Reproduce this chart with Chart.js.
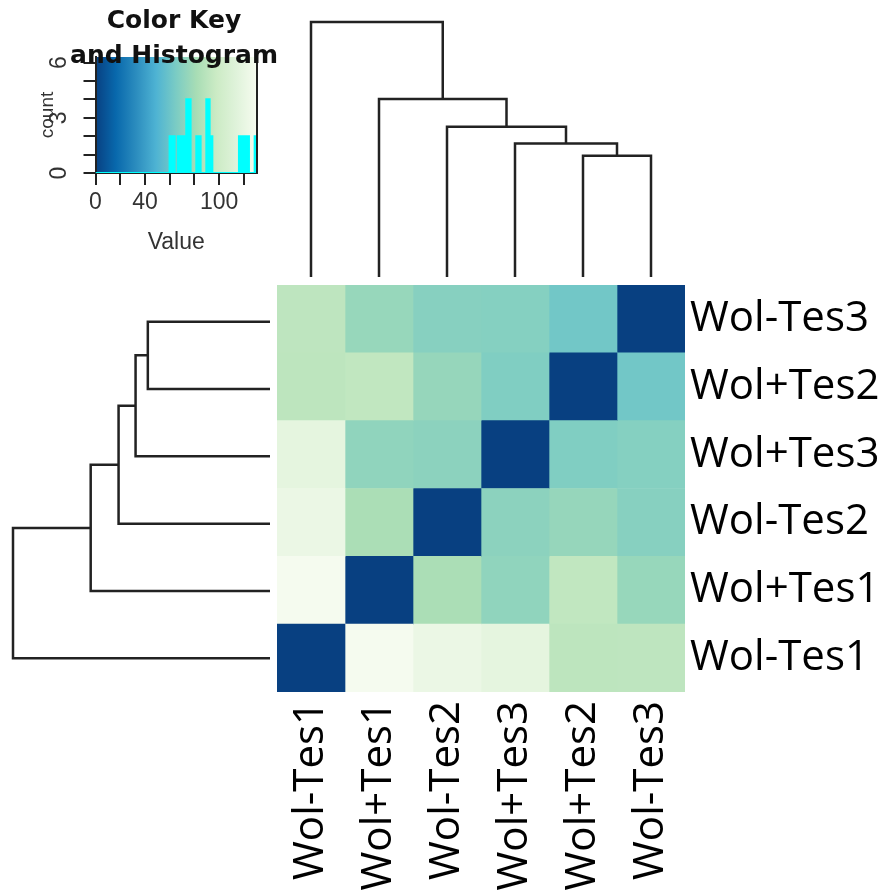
<!DOCTYPE html>
<html>
<head>
<meta charset="utf-8">
<script src="https://cdn.jsdelivr.net/npm/chart.js@4.4.0/dist/chart.umd.min.js"></script>
<style>
    html, body { margin: 0; padding: 0; background: #fff; }
    #wrap { position: relative; width: 885px; height: 896px; overflow: hidden; }
    #wrap canvas { position: absolute; left: 0; top: 0; }
</style>
</head>
<body>
<div id="wrap">
    <canvas id="heat" width="885" height="896"></canvas>
    <canvas id="dendroTop" width="885" height="896"></canvas>
    <canvas id="dendroLeft" width="885" height="896"></canvas>
    <canvas id="key" width="885" height="896"></canvas>
</div>
<script>
// Column order (left to right) and row order (top to bottom)
const colLabels = ['Wol-Tes1', 'Wol+Tes1', 'Wol-Tes2', 'Wol+Tes3', 'Wol+Tes2', 'Wol-Tes3'];
const rowLabels = ['Wol-Tes3', 'Wol+Tes2', 'Wol+Tes3', 'Wol-Tes2', 'Wol+Tes1', 'Wol-Tes1'];

// Cell values per row, columns in colLabels order
const rowWolMTes3 = [91.5, 75.5, 69.5, 69, 62, 0];
const rowWolPTes2 = [91, 93, 75, 67, 0, 62];
const rowWolPTes3 = [117.5, 73, 71.5, 0, 67, 69];
const rowWolMTes2 = [122, 83, 0, 71.5, 75, 69.5];
const rowWolPTes1 = [129.5, 0, 83, 73, 93, 75.5];
const rowWolMTes1 = [0, 129.5, 122, 117.5, 91, 91.5];
const cellRows = [rowWolMTes3, rowWolPTes2, rowWolPTes3, rowWolMTes2, rowWolPTes1, rowWolMTes1];

// Dendrogram (hclust style: negative = leaf column number, positive = earlier merge)
const mergeA = [-5, -4, -3, -2, -1];
const mergeB = [-6, 1, 2, 3, 4];
const mergeHeights = [61.8, 68, 76.6, 90.7, 130];

// Color key
const keyColors = ['#084081', '#0868ac', '#2b8cbe', '#4eb3d3', '#7bccc4', '#a8ddb5', '#ccebc5', '#e0f3db', '#f7fcf0'];
const keyMin = 0;
const keyMax = 130.6;
const keyXTicks = [0, 20, 40, 60, 80, 100, 120];
const keyXShown = [0, 40, 100];
const keyYTicks = [0, 1, 2, 3, 4, 5, 6];
const keyYShown = [0, 3, 6];

// Histogram steps: count holds from each edge to the next one
const histEdges = [0, 59.9, 64.0, 66.6, 73.4, 76.9, 81.5, 85.0, 89.6, 92.3, 94.5, 116.0, 119.3, 120.6, 124.1, 128.7, 130.6];
const histCounts = [0, 2, 0, 2, 4, 0, 2, 0, 4, 2, 0, 2, 0, 2, 0, 2, 0];

const hexToRgb = (h) => [1, 3, 5].map(i => parseInt(h.slice(i, i + 2), 16));

const cellColor = (v) => {
    const n = keyColors.length - 1;
    const t = Math.min(1, Math.max(0, (v - keyMin) / (keyMax - keyMin))) * n;
    const i = Math.min(Math.floor(t), n - 1);
    const f = t - i;
    const a = hexToRgb(keyColors[i]);
    const b = hexToRgb(keyColors[i + 1]);
    const c = a.map((x, k) => Math.round(x + (b[k] - x) * f));
    return `rgb(${c[0]}, ${c[1]}, ${c[2]})`;
};

// Build the U-shaped links of the dendrogram
const dendroLinks = (leafPos) => {
    const nodes = [];
    const links = [];
    mergeHeights.forEach((h, k) => {
        const kids = [mergeA[k], mergeB[k]].map(m => m < 0 ? { pos: leafPos(-m - 1), h: 0 } : nodes[m - 1]);
        links.push([
            { pos: kids[0].pos, h: kids[0].h },
            { pos: kids[0].pos, h: h },
            { pos: kids[1].pos, h: h },
            { pos: kids[1].pos, h: kids[1].h }
        ]);
        nodes.push({ pos: (kids[0].pos + kids[1].pos) / 2, h: h });
    });
    return links;
};

const lineColor = '#222';
const labelFont = { family: 'Open Sans', size: 42 };
const keyFont = { family: 'Liberation Sans', size: 23 };
const noPlugins = { legend: { display: false }, tooltip: { enabled: false } };

// Heatmap
new Chart(document.getElementById('heat'), {
    type: 'bar',
    data: {
        labels: rowLabels,
        datasets: colLabels.map((name, j) => ({
            label: name,
            data: rowLabels.map(() => 1),
            backgroundColor: cellRows.map(r => cellColor(r[j])),
            borderWidth: 0,
            barPercentage: 1,
            categoryPercentage: 1
        }))
    },
    options: {
        indexAxis: 'y',
        responsive: false,
        animation: false,
        layout: { padding: { left: 277, top: 285, right: 0, bottom: 0 } },
        plugins: noPlugins,
        scales: {
            x: {
                stacked: true,
                min: 0,
                max: 6,
                position: 'bottom',
                grid: { display: false, drawTicks: false },
                border: { display: false },
                afterBuildTicks: (axis) => { axis.ticks = colLabels.map((_, i) => ({ value: i + 0.5 })); },
                afterFit: (axis) => { axis.height = 204; },
                ticks: {
                    autoSkip: false,
                    minRotation: 90,
                    maxRotation: 90,
                    padding: 9,
                    color: '#000',
                    font: labelFont,
                    callback: (v) => colLabels[Math.floor(v)]
                }
            },
            y: {
                stacked: true,
                position: 'right',
                grid: { display: false, drawTicks: false },
                border: { display: false },
                afterFit: (axis) => { axis.width = 200; },
                ticks: { padding: 5, color: '#000', font: labelFont }
            }
        }
    }
});

// Top dendrogram (columns)
new Chart(document.getElementById('dendroTop'), {
    type: 'scatter',
    data: {
        datasets: dendroLinks(c => c + 0.5).map(link => ({
            data: link.map(p => ({ x: p.pos, y: p.h })),
            showLine: true,
            pointRadius: 0,
            borderColor: lineColor,
            borderWidth: 2.5,
            borderJoinStyle: 'miter',
            clip: false
        }))
    },
    options: {
        responsive: false,
        animation: false,
        layout: { padding: { left: 277, right: 200, top: 22, bottom: 619 } },
        plugins: noPlugins,
        scales: {
            x: { type: 'linear', min: 0, max: 6, display: false },
            y: { type: 'linear', min: 0, max: 130, display: false }
        }
    }
});

// Left dendrogram (rows)
new Chart(document.getElementById('dendroLeft'), {
    type: 'scatter',
    data: {
        datasets: dendroLinks(c => rowLabels.indexOf(colLabels[c]) + 0.5).map(link => ({
            data: link.map(p => ({ x: p.h, y: p.pos })),
            showLine: true,
            pointRadius: 0,
            borderColor: lineColor,
            borderWidth: 2.5,
            borderJoinStyle: 'miter',
            clip: false
        }))
    },
    options: {
        responsive: false,
        animation: false,
        layout: { padding: { left: 13, right: 615, top: 288, bottom: 204 } },
        plugins: noPlugins,
        scales: {
            x: { type: 'linear', min: 0, max: 130, reverse: true, display: false },
            y: { type: 'linear', min: 0, max: 6, reverse: true, display: false }
        }
    }
});

// Gradient behind the histogram, plus right edge of the box
const keyBackground = {
    id: 'keyBackground',
    beforeDraw: (chart) => {
        const { ctx, chartArea: a } = chart;
        const g = ctx.createLinearGradient(a.left, 0, a.right, 0);
        keyColors.forEach((c, i) => g.addColorStop(i / (keyColors.length - 1), c));
        ctx.save();
        ctx.fillStyle = g;
        ctx.fillRect(a.left, a.top, a.right - a.left, a.bottom - a.top);
        ctx.restore();
    },
    afterDraw: (chart) => {
        const { ctx, chartArea: a } = chart;
        ctx.save();
        ctx.strokeStyle = '#222';
        ctx.lineWidth = 2;
        ctx.beginPath();
        ctx.moveTo(a.right, a.top);
        ctx.lineTo(a.right, a.bottom);
        ctx.stroke();
        ctx.restore();
    }
};

// Two-line title that overlaps the top of the key
const keyTitle = {
    id: 'keyTitle',
    afterDraw: (chart) => {
        const ctx = chart.ctx;
        ctx.save();
        ctx.font = 'bold 25px "DejaVu Sans"';
        ctx.fillStyle = '#111';
        ctx.textAlign = 'center';
        ctx.textBaseline = 'alphabetic';
        ctx.fillText('Color Key', 174, 28);
        ctx.fillText('and Histogram', 174, 63);
        ctx.restore();
    }
};

// Color key with histogram
new Chart(document.getElementById('key'), {
    type: 'line',
    data: {
        datasets: [{
            data: histEdges.map((x, i) => ({ x: x, y: histCounts[i] })),
            stepped: true,
            borderColor: '#00ffff',
            backgroundColor: '#00ffff',
            borderWidth: 2,
            fill: 'origin',
            pointRadius: 0
        }]
    },
    options: {
        responsive: false,
        animation: false,
        layout: { padding: { left: 20, top: 57, right: 628, bottom: 636 } },
        plugins: noPlugins,
        scales: {
            x: {
                type: 'linear',
                min: keyMin,
                max: keyMax,
                afterBuildTicks: (axis) => { axis.ticks = keyXTicks.map(v => ({ value: v })); },
                afterFit: (axis) => { axis.height = 87; },
                grid: { drawOnChartArea: false, drawTicks: true, tickLength: 12, color: '#222', lineWidth: 2 },
                border: { display: true, color: '#222', width: 2 },
                ticks: {
                    autoSkip: false,
                    maxRotation: 0,
                    padding: 4,
                    color: '#333',
                    font: keyFont,
                    callback: (v) => keyXShown.includes(v) ? String(v) : ''
                },
                title: { display: true, text: 'Value', color: '#333', font: keyFont, padding: { top: 0, bottom: 4 } }
            },
            y: {
                type: 'linear',
                min: 0,
                max: 6.3,
                afterBuildTicks: (axis) => { axis.ticks = keyYTicks.map(v => ({ value: v })); },
                afterFit: (axis) => { axis.width = 75.5; },
                grid: { drawOnChartArea: false, drawTicks: true, tickLength: 12, color: '#222', lineWidth: 2 },
                border: { display: true, color: '#222', width: 2 },
                ticks: {
                    autoSkip: false,
                    minRotation: 90,
                    maxRotation: 90,
                    crossAlign: 'center',
                    padding: 17,
                    color: '#333',
                    font: keyFont,
                    callback: (v) => keyYShown.includes(v) ? String(v) : ''
                },
                title: { display: true, text: 'count', color: '#333', font: { family: 'Liberation Sans', size: 19 }, padding: { top: 16, bottom: 0 } }
            }
        }
    },
    plugins: [keyBackground, keyTitle]
});
</script>
</body>
</html>
